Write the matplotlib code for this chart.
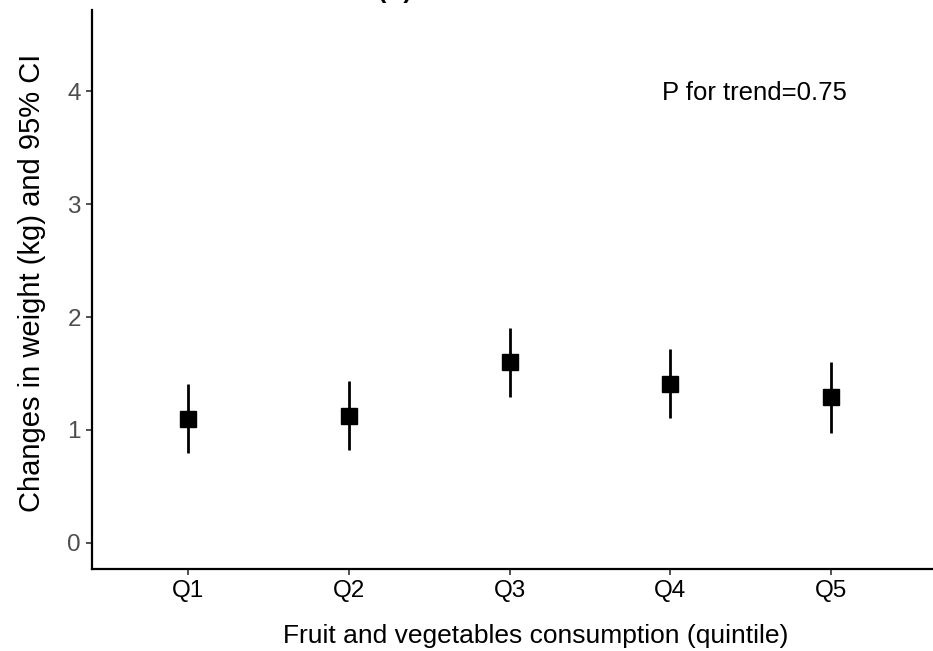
import matplotlib.pyplot as plt

plt.rcParams["font.family"] = ["Liberation Sans", "DejaVu Sans"]

# Data
quintiles = ["Q1", "Q2", "Q3", "Q4", "Q5"]
estimate = [1.10, 1.12, 1.60, 1.41, 1.29]
ci_low = [0.80, 0.82, 1.29, 1.11, 0.97]
ci_high = [1.41, 1.435, 1.90, 1.72, 1.605]

x = list(range(len(quintiles)))
err_lo = [e - l for e, l in zip(estimate, ci_low)]
err_hi = [h - e for e, h in zip(estimate, ci_high)]

fig = plt.figure(figsize=(9.33, 6.51), dpi=100)
ax = fig.add_axes([0.0991, 0.1267, 0.9009, 0.8579])

ax.errorbar(x, estimate, yerr=[err_lo, err_hi], fmt="none", ecolor="black",
            elinewidth=2.0, capsize=0)
ax.plot(x, estimate, "s", color="black", markersize=12.2)

ax.set_xlim(-0.592, 4.632)
ax.set_ylim(-0.226, 4.717)
ax.set_xticks(x)
ax.set_xticklabels(quintiles)
ax.set_yticks([0, 1, 2, 3, 4])

for side in ["top", "right"]:
    ax.spines[side].set_visible(False)
for side in ["left", "bottom"]:
    ax.spines[side].set_linewidth(1.6)

ax.tick_params(axis="both", length=4.3, width=1.2, color="#333333",
               labelsize=17.5, pad=4)
ax.tick_params(axis="y", labelcolor="#4D4D4D")
ax.tick_params(axis="x", labelcolor="black")

ax.set_xlabel("Fruit and vegetables consumption (quintile)", fontsize=19)
ax.xaxis.label.set_va("baseline")
ax.xaxis.set_label_coords(0.527, -0.1334)

ax.set_ylabel("Changes in weight (kg) and 95% CI", fontsize=21)
ax.yaxis.label.set_va("baseline")
ax.yaxis.set_label_coords(-0.0625, 0.511)

ax.text(3.52, 3.92, "P for trend=0.75", fontsize=18.5, ha="center", va="baseline")

fig.text(395 / 933, 1 + 2 / 651, "(C)", fontsize=18, fontweight="bold",
         ha="center", va="baseline")

fig.savefig("out.png", dpi=100)
